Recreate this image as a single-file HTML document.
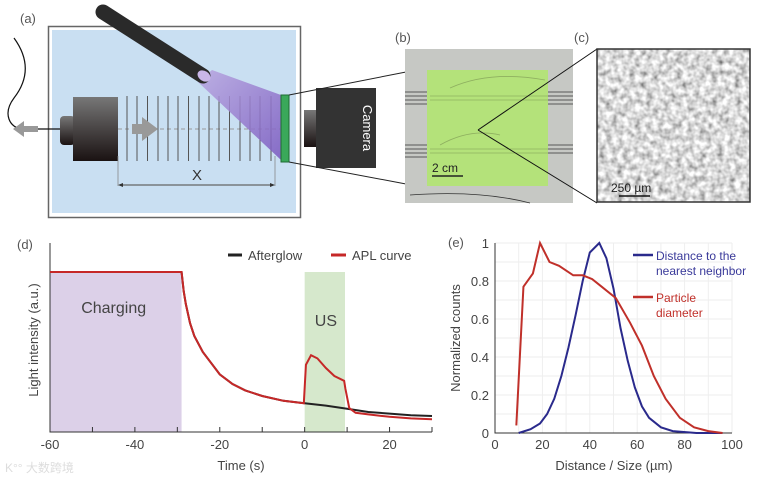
<!DOCTYPE html>
<html><head><meta charset="utf-8"><style>
body{margin:0;background:#fff;width:760px;height:481px;overflow:hidden}
svg{display:block;font-family:"Liberation Sans",sans-serif}
</style></head><body>
<svg width="760" height="481" viewBox="0 0 760 481">
<defs>
<linearGradient id="blk" x1="0" y1="0" x2="0" y2="1"><stop offset="0" stop-color="#777"/><stop offset="1" stop-color="#1a1212"/></linearGradient>
<linearGradient id="uv" x1="0" y1="0" x2="1" y2="1"><stop offset="0" stop-color="#b9a6e0"/><stop offset="1" stop-color="#7a58bf"/></linearGradient>
<filter id="noise" x="0" y="0" width="1" height="1"><feTurbulence type="fractalNoise" baseFrequency="0.17" numOctaves="2" seed="3"/><feColorMatrix type="matrix" values="1.3 0 0 0 0.05  1.3 0 0 0 0.05  1.3 0 0 0 0.05  0 0 0 0 1"/></filter>
</defs>
<!-- panel a -->
<g>
<text x="20" y="23" font-size="13" fill="#555">(a)</text>
<rect x="48.5" y="26.5" width="252" height="191" fill="#fff" stroke="#666" stroke-width="1.5"/>
<rect x="52" y="30" width="244" height="183" fill="#c9dff2"/>
<path d="M14 38 C30 60 28 80 14 98 C2 114 10 128 22 129 L60 129" fill="none" stroke="#111" stroke-width="1.2"/>
<path d="M13 129 L24 121 L24 126 L38 126 L38 132 L24 132 L24 137 Z" fill="#999"/>
<rect x="60" y="116" width="15" height="29" rx="4" fill="url(#blk)"/>
<rect x="73" y="97" width="45" height="64" fill="url(#blk)"/>
<line x1="118" y1="129" x2="280" y2="129" stroke="#999" stroke-dasharray="4 3"/>
<g stroke="#555" stroke-width="1">
<line x1="127" y1="96" x2="127" y2="161"/><line x1="137" y1="96" x2="137" y2="161"/><line x1="147.5" y1="96" x2="147.5" y2="161"/><line x1="158" y1="96" x2="158" y2="161"/><line x1="168" y1="96" x2="168" y2="161"/><line x1="178" y1="96" x2="178" y2="161"/><line x1="188.5" y1="96" x2="188.5" y2="161"/><line x1="199" y1="96" x2="199" y2="161"/><line x1="209" y1="96" x2="209" y2="161"/><line x1="219" y1="96" x2="219" y2="161"/><line x1="229.5" y1="96" x2="229.5" y2="161"/><line x1="240" y1="96" x2="240" y2="161"/><line x1="250" y1="96" x2="250" y2="161"/><line x1="260" y1="96" x2="260" y2="161"/><line x1="271" y1="96" x2="271" y2="161"/>
</g>
<path d="M132 124 L142 124 L142 117 L158 129 L142 141 L142 134 L132 134 Z" fill="#999"/>
<path d="M198 82 L212 70 L281 95 L281 160 Z" fill="url(#uv)" opacity="0.85"/>
<line x1="103" y1="12" x2="203" y2="76" stroke="#2a2a2a" stroke-width="15" stroke-linecap="round"/>
<ellipse cx="204" cy="76" rx="5" ry="7" fill="#c9b6e8" transform="rotate(-57 204 76)"/>
<rect x="281" y="95" width="8" height="67" fill="#3aa85a" stroke="#1e6b33"/>
<line x1="118" y1="156" x2="118" y2="186" stroke="#888" stroke-width="0.8"/>
<line x1="275" y1="156" x2="275" y2="186" stroke="#888" stroke-width="0.8"/>
<line x1="120" y1="185" x2="273" y2="185" stroke="#666" stroke-width="1.2"/>
<path d="M118 185 L123 183 L123 187Z M275 185 L270 183 L270 187Z" fill="#333"/>
<text x="197" y="180" font-size="15" fill="#333" text-anchor="middle">X</text>
<rect x="304" y="110" width="13" height="37" fill="url(#blk)"/>
<rect x="316" y="88" width="60" height="80" fill="#333"/>
<text x="0" y="0" font-size="13" fill="#fff" text-anchor="middle" transform="translate(363 128) rotate(90)">Camera</text>
<line x1="289" y1="95" x2="406" y2="72" stroke="#222"/>
<line x1="289" y1="162" x2="406" y2="184" stroke="#222"/>
</g>
<!-- panel b -->
<g>
<text x="395" y="42" font-size="13" fill="#555">(b)</text>
<rect x="405" y="49" width="168" height="154" fill="#c6c8c4"/>
<g stroke="#333" stroke-width="0.8" fill="none">
<line x1="405" y1="92" x2="430" y2="92"/><line x1="405" y1="96" x2="430" y2="96"/><line x1="405" y1="100" x2="430" y2="100"/><line x1="405" y1="104" x2="430" y2="104"/>
<line x1="405" y1="145" x2="430" y2="145"/><line x1="405" y1="149" x2="430" y2="149"/><line x1="405" y1="153" x2="430" y2="153"/><line x1="405" y1="157" x2="430" y2="157"/>
<line x1="548" y1="92" x2="573" y2="92"/><line x1="548" y1="96" x2="573" y2="96"/><line x1="548" y1="100" x2="573" y2="100"/><line x1="548" y1="104" x2="573" y2="104"/>
<line x1="548" y1="145" x2="573" y2="145"/><line x1="548" y1="149" x2="573" y2="149"/><line x1="548" y1="153" x2="573" y2="153"/>
<path d="M410 195 Q480 190 530 203"/>
</g>
<rect x="427" y="70" width="121" height="116" fill="#b4e27a"/>
<g stroke="#8fb060" stroke-width="0.8" fill="none"><line x1="430" y1="96" x2="548" y2="96"/><line x1="430" y1="100" x2="548" y2="100"/><line x1="430" y1="149" x2="548" y2="149"/><line x1="430" y1="153" x2="548" y2="153"/><path d="M450 88 Q490 70 545 80"/><path d="M440 145 Q470 128 500 135"/></g>
<line x1="432" y1="176" x2="463" y2="176" stroke="#222" stroke-width="1.5"/>
<text x="432" y="172" font-size="12" fill="#222">2 cm</text>
<line x1="478" y1="130" x2="597" y2="49" stroke="#111"/>
<line x1="478" y1="130" x2="597" y2="203" stroke="#111"/>
</g>
<!-- panel c -->
<g>
<text x="574" y="42" font-size="13" fill="#555">(c)</text>
<rect x="597" y="49" width="153" height="153" fill="#d4d4d4"/>
<rect x="597" y="49" width="153" height="153" filter="url(#noise)"/>
<rect x="597" y="49" width="153" height="153" fill="none" stroke="#333" stroke-width="1.5"/>
<line x1="619" y1="196" x2="650" y2="196" stroke="#111" stroke-width="1.5"/>
<text x="611" y="192" font-size="12" fill="#222">250 µm</text>
</g>
<!-- panel d -->
<g id="pd">
<text x="17" y="249" font-size="13" fill="#555">(d)</text>
</g>
<!-- panel e -->
<g id="pe">
<text x="448" y="247" font-size="13" fill="#555">(e)</text>
</g>
<text x="5" y="472" font-size="12" fill="#ddd" font-family="'Liberation Sans','Noto Sans CJK SC',sans-serif">K°° 大数跨境</text>
</svg>
<script>
const NS='http://www.w3.org/2000/svg';
// panel d data
const dTicks=[-60,-40,-20,0,20];
const afterT=[-60,-29,-28.5,-28,-27,-26,-24,-22,-20,-17,-14,-10,-5,0,5,10,15,20,25,30];
const afterV=[1,1,0.88,0.8,0.68,0.6,0.5,0.43,0.36,0.3,0.26,0.225,0.195,0.18,0.165,0.145,0.125,0.115,0.105,0.1];
const aplT=[-60,-29,-28.5,-28,-27,-26,-24,-22,-20,-17,-14,-10,-5,-0.2,0.3,1.5,3,5,7,9.3,9.6,10.5,12,15,20,25,30];
const aplV=[1,1,0.88,0.8,0.68,0.6,0.5,0.43,0.36,0.3,0.26,0.225,0.195,0.18,0.42,0.48,0.46,0.4,0.35,0.32,0.27,0.15,0.12,0.11,0.095,0.085,0.08];
const chargeRange=[-60,-29];
const usRange=[0,9.5];
function el(p,t,a,txt){const e=document.createElementNS(NS,t);for(const k in a)e.setAttribute(k,a[k]);if(txt!==undefined)e.textContent=txt;p.appendChild(e);return e;}
const pd=document.getElementById('pd');
const dx=t=>50+(t+60)/90*382, dy=v=>432-v*160;
let r=el(pd,'rect',{x:dx(chargeRange[0]),y:dy(1),width:dx(chargeRange[1])-dx(chargeRange[0]),height:dy(0)-dy(1),fill:'#dcd0e8'});


r=el(pd,'rect',{x:dx(usRange[0]),y:dy(1),width:dx(usRange[1])-dx(usRange[0]),height:dy(0)-dy(1),fill:'#d6e8cc'});


let t=el(pd,'text',{x:dx(-45),y:313,'font-size':16,fill:'#444','text-anchor':'middle'},'Charging');


t=el(pd,'text',{x:dx(5),y:326,'font-size':16,fill:'#444','text-anchor':'middle'},'US');


let ax=el(pd,'path',{d:`M50 243 L50 432 L432 432`,fill:'none',stroke:'#333','stroke-width':1});


for(let v=-60;v<=30;v+=10){el(pd,'line',{x1:dx(v),x2:dx(v),y1:432,y2:427,stroke:'#333'});}
dTicks.forEach(v=>{const tt=el(pd,'text',{x:dx(v),y:449,'font-size':13,fill:'#444','text-anchor':'middle'},String(v));});
t=el(pd,'text',{x:241,y:470,'font-size':13,fill:'#444','text-anchor':'middle'},'Time (s)');


t=el(pd,'text',{x:0,y:0,'font-size':13,fill:'#444','text-anchor':'middle',transform:'translate(38 340) rotate(-90)'},'Light intensity (a.u.)');


let p=el(pd,'polyline',{points:afterT.map((x,i)=>dx(x)+','+dy(afterV[i])).join(' '),fill:'none',stroke:'#222','stroke-width':2});


p=el(pd,'polyline',{points:aplT.map((x,i)=>dx(x)+','+dy(aplV[i])).join(' '),fill:'none',stroke:'#c62828','stroke-width':2});


el(pd,'line',{x1:228,x2:242,y1:255,y2:255,stroke:'#222','stroke-width':3});
t=el(pd,'text',{x:248,y:260,'font-size':13,fill:'#444'},'Afterglow');


el(pd,'line',{x1:331,x2:346,y1:255,y2:255,stroke:'#c62828','stroke-width':3});
t=el(pd,'text',{x:352,y:260,'font-size':13,fill:'#444'},'APL curve');



// panel e data
const eXTicks=[0,20,40,60,80,100];
const eYTicks=[0,0.2,0.4,0.6,0.8,1];
const nnX=[10,15,19,22,25,28,31,34,37,40,44,47,50,53,56,59,62,65,70,75,85,96];
const nnY=[0,0.02,0.05,0.1,0.18,0.3,0.45,0.62,0.8,0.95,1,0.92,0.76,0.55,0.38,0.24,0.14,0.08,0.03,0.01,0,0];
const pdX=[9,12,16,19,23,27,33,37,41,45,51,57,62,67,72,78,84,90,96];
const pdY=[0.04,0.77,0.84,1,0.9,0.88,0.83,0.83,0.81,0.77,0.71,0.58,0.46,0.3,0.18,0.08,0.03,0.01,0];
const pe=document.getElementById('pe');
const ex=v=>495+v/100*237, ey=v=>433-v*190;
for(let v=0;v<=100;v+=10){el(pe,'line',{x1:ex(v),x2:ex(v),y1:ey(0),y2:ey(1),stroke:'#eee'});}
for(let v=0;v<=1.001;v+=0.1){el(pe,'line',{x1:ex(0),x2:ex(100),y1:ey(v),y2:ey(v),stroke:'#eee'});}
ax=el(pe,'path',{d:`M495 243 L495 433 L732 433`,fill:'none',stroke:'#333'});


eXTicks.forEach(v=>{const tt=el(pe,'text',{x:ex(v),y:449,'font-size':13,fill:'#444','text-anchor':'middle'},String(v));});
eYTicks.forEach(v=>{const tt=el(pe,'text',{x:489,y:ey(v)+5,'font-size':13,fill:'#444','text-anchor':'end'},String(v));});
t=el(pe,'text',{x:614,y:470,'font-size':13,fill:'#444','text-anchor':'middle'},'Distance / Size (µm)');


t=el(pe,'text',{x:0,y:0,'font-size':13,fill:'#444','text-anchor':'middle',transform:'translate(460 338) rotate(-90)'},'Normalized counts');


p=el(pe,'polyline',{points:nnX.map((x,i)=>ex(x)+','+ey(nnY[i])).join(' '),fill:'none',stroke:'#2a2a8c','stroke-width':2});


p=el(pe,'polyline',{points:pdX.map((x,i)=>ex(x)+','+ey(pdY[i])).join(' '),fill:'none',stroke:'#c0302a','stroke-width':2});


el(pe,'line',{x1:633,x2:653,y1:255,y2:255,stroke:'#2a2a8c','stroke-width':2.5});
t=el(pe,'text',{x:656,y:260,'font-size':12,fill:'#3a3a9a'},'Distance to the');


el(pe,'text',{x:656,y:275,'font-size':12,fill:'#3a3a9a'},'nearest neighbor');
el(pe,'line',{x1:633,x2:653,y1:297,y2:297,stroke:'#c0302a','stroke-width':2.5});
t=el(pe,'text',{x:656,y:302,'font-size':12,fill:'#c0302a'},'Particle');


el(pe,'text',{x:656,y:317,'font-size':12,fill:'#c0302a'},'diameter');
</script>
</body></html>
